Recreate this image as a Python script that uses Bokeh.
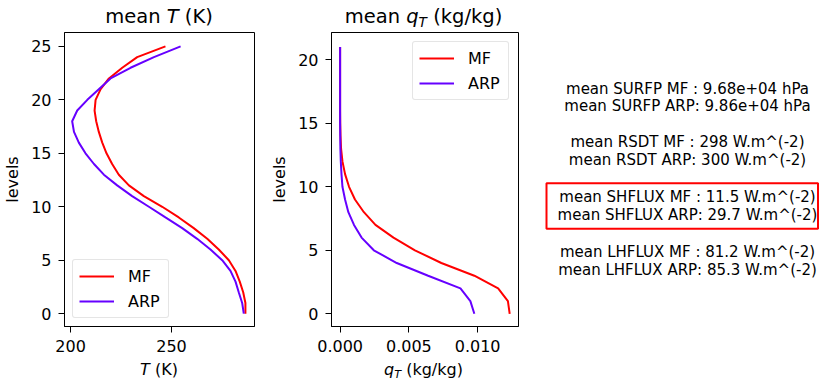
from bokeh.plotting import figure
from bokeh.layouts import row, column
from bokeh.models import (Range1d, FixedTicker, PrintfTickFormatter, Label, Legend,
                          LegendItem, BoxAnnotation, Div)
from bokeh.embed import file_html
from bokeh.resources import INLINE

# ---------------- data ----------------
levels_T = list(range(26))
T_MF = [286.6, 286.6, 285.5, 283.8, 281.7, 278.4, 273.4, 267.7, 261.0, 253.6,
        245.4, 236.3, 228.9, 223.9, 220.6, 217.8, 215.7, 214.0, 212.7, 211.9,
        212.4, 214.9, 219.0, 225.6, 233.0, 247.0]
T_ARP = [285.8, 285.0, 283.3, 281.7, 279.2, 275.1, 269.3, 262.7, 255.3, 247.0,
         238.8, 230.5, 223.1, 216.5, 211.6, 207.4, 204.1, 201.7, 200.8, 203.3,
         208.3, 214.0, 219.8, 229.7, 241.3, 254.5]

levels_q = list(range(22))
q_MF = [0.01233, 0.01220, 0.01149, 0.00976, 0.00736, 0.00544, 0.00388, 0.00257,
        0.00173, 0.00108, 0.00065, 0.00036, 0.00017, 0.00007, 0.00003, 0.00001,
        0.0, 0.0, 0.0, 0.0, 0.0, 0.0]
q_ARP = [0.00976, 0.00947, 0.00875, 0.00640, 0.00412, 0.00245, 0.00156, 0.00101,
         0.00060, 0.00036, 0.00017, 0.00010, 0.00005, 0.00002, 0.00001, 0.0,
         0.0, 0.0, 0.0, 0.0, 0.0, 0.0]

T_xticks = [200, 250]
T_yticks = [0, 5, 10, 15, 20, 25]
q_xticks = [0.0, 0.005, 0.010]
q_yticks = [0, 5, 10, 15, 20]

series_names = ["MF", "ARP"]
series_colors = ["#ff0000", "#6600ff"]

diag_names = ["SURFP", "RSDT", "SHFLUX", "LHFLUX"]
diag_units = ["hPa", "W.m^(-2)", "W.m^(-2)", "W.m^(-2)"]
diag_MF = [9.68e4, 298, 11.5, 81.2]
diag_ARP = [9.86e4, 300, 29.7, 85.3]
highlight = "SHFLUX"

title_T = "mean <i>T</i> (K)"
xlabel_T = "<i>T</i> (K)"
qT_html = '<i>q</i><span style="font-size:70%;position:relative;top:0.3em;"><i>T</i></span>'
title_q = f"mean {qT_html} (kg/kg)"
xlabel_q = f"{qT_html} (kg/kg)"

FONT = "DejaVu Sans"
TICK_FS = "16px"

# vertical layout (page px)
TITLE_H = 30
FIG_TOP, FRAME_H, FIG_BOT = 2, 294, 30
FIG_H = FIG_TOP + FRAME_H + FIG_BOT
XLAB_H = 380 - TITLE_H - FIG_H


def title_div(html, width, left, fw):
    return Div(text=(f'<div style="margin-left:{left}px;width:{fw}px;text-align:center;'
                     f'font-family:\'DejaVu Sans\';font-size:19.5px;line-height:22px;'
                     f'padding-top:6px;color:black;white-space:nowrap;">{html}</div>'),
               width=width, height=TITLE_H, margin=0)


def xlabel_div(html, width, left, fw):
    return Div(text=(f'<div style="margin-left:{left}px;width:{fw}px;text-align:center;'
                     f'font-family:\'DejaVu Sans\';font-size:16px;line-height:20px;'
                     f'padding-top:4px;color:black;white-space:nowrap;">{html}</div>'),
               width=width, height=XLAB_H, margin=0)


def make_axes_fig(width, left, right, xr, yr):
    p = figure(width=width, height=FIG_H, output_backend="svg", toolbar_location=None,
               x_range=Range1d(*xr), y_range=Range1d(*yr),
               min_border_left=left, min_border_right=right,
               min_border_top=FIG_TOP, min_border_bottom=FIG_BOT, margin=0)
    p.title.visible = False
    p.grid.visible = False
    p.outline_line_color = "black"
    p.outline_line_width = 1
    p.background_fill_color = "white"
    p.border_fill_color = "white"
    for ax in (p.xaxis[0], p.yaxis[0]):
        ax.axis_line_color = "black"
        ax.major_tick_line_color = "black"
        ax.major_tick_out = 6
        ax.major_tick_in = 0
        ax.minor_tick_line_color = None
        ax.major_label_text_font = FONT
        ax.major_label_text_font_size = TICK_FS
        ax.major_label_text_color = "black"
        ax.major_label_standoff = 7
    p.yaxis.axis_label = "levels"
    p.yaxis.axis_label_text_font = FONT
    p.yaxis.axis_label_text_font_size = TICK_FS
    p.yaxis.axis_label_text_font_style = "normal"
    p.yaxis.axis_label_text_color = "black"
    p.yaxis.axis_label_standoff = 6
    return p


def add_legend(p, renderers, loc, margin):
    items = [LegendItem(label=n, renderers=[r]) for n, r in zip(series_names, renderers)]
    leg = Legend(items=items, location=loc)
    leg.label_text_font = FONT
    leg.label_text_font_size = TICK_FS
    leg.label_text_color = "black"
    leg.glyph_width = 35
    leg.glyph_height = 20
    leg.label_height = 20
    leg.label_width = 34
    leg.label_standoff = 14
    leg.spacing = 5
    leg.padding = 6
    leg.margin = margin
    leg.border_line_color = "#cccccc"
    leg.border_line_width = 1
    leg.background_fill_alpha = 0.8
    if "border_radius" in Legend.properties():
        leg.border_radius = 3
    p.add_layout(leg, "center")


# ---------------- panel 1: T ----------------
W1, L1, R1 = 267, 64, 13
fw1 = W1 - L1 - R1
p1 = make_axes_fig(W1, L1, R1, (197.0, 291.1), (-1.2, 26.3))
p1.xaxis.ticker = FixedTicker(ticks=T_xticks)
p1.yaxis.ticker = FixedTicker(ticks=T_yticks)
r1a = p1.line(T_MF, levels_T, line_color=series_colors[0], line_width=2)
r1b = p1.line(T_ARP, levels_T, line_color=series_colors[1], line_width=2)
add_legend(p1, [r1a, r1b], "bottom_left", 8)
col1 = column(title_div(title_T, W1, L1, fw1), p1, xlabel_div(xlabel_T, W1, L1, fw1),
              spacing=0, margin=0)

# ---------------- panel 2: qT ----------------
W2, L2, R2 = 263, 62, 12
fw2 = W2 - L2 - R2
p2 = make_axes_fig(W2, L2, R2, (-0.000626, 0.01297), (-1.0, 22.15))
p2.xaxis.ticker = FixedTicker(ticks=q_xticks)
p2.xaxis.formatter = PrintfTickFormatter(format="%.3f")
p2.yaxis.ticker = FixedTicker(ticks=q_yticks)
r2a = p2.line(q_MF, levels_q, line_color=series_colors[0], line_width=2)
r2b = p2.line(q_ARP, levels_q, line_color=series_colors[1], line_width=2)
add_legend(p2, [r2a, r2b], "top_right", 9)
col2 = column(title_div(title_q, W2, L2, fw2), p2, xlabel_div(xlabel_q, W2, L2, fw2),
              spacing=0, margin=0)

# ---------------- panel 3: text ----------------
X0 = W1 + W2
W3 = 819 - X0
frame_top = TITLE_H + FIG_TOP
frame_bot = frame_top + FRAME_H
p3 = figure(width=W3, height=FIG_H, output_backend="svg", toolbar_location=None,
            x_range=Range1d(X0, X0 + W3), y_range=Range1d(frame_bot, frame_top),
            min_border_left=0, min_border_right=0,
            min_border_top=FIG_TOP, min_border_bottom=FIG_BOT,
            x_axis_type=None, y_axis_type=None, margin=0)
p3.title.visible = False
p3.grid.visible = False
p3.outline_line_color = None
p3.background_fill_color = "white"
p3.border_fill_color = "white"

text_cx = 687
line_gap = 17.6
block_y = [88.3, 141.7, 196.7, 251.7]
for name, unit, vm, va, by in zip(diag_names, diag_units, diag_MF, diag_ARP, block_y):
    t1 = f"mean {name} MF : {vm:.3g} {unit}"
    t2 = f"mean {name} ARP: {va:.3g} {unit}"
    for t, yy in ((t1, by), (t2, by + line_gap)):
        p3.add_layout(Label(x=text_cx, y=yy, text=t, text_font=FONT, text_font_size="15px",
                            text_align="center", text_baseline="middle", text_color="black"))
    if name == highlight:
        p3.add_layout(BoxAnnotation(left=546, right=X0 + W3 - 1.5,
                                    top=by - 14, bottom=by + line_gap + 14,
                                    fill_color=None, fill_alpha=0,
                                    line_color="#ff0000", line_alpha=1, line_width=2))
col3 = column(Div(text="", width=W3, height=TITLE_H, margin=0), p3,
              Div(text="", width=W3, height=XLAB_H, margin=0), spacing=0, margin=0)

layout = row(col1, col2, col3, spacing=0, margin=0)
open("out.html", "w").write(file_html(layout, INLINE))
